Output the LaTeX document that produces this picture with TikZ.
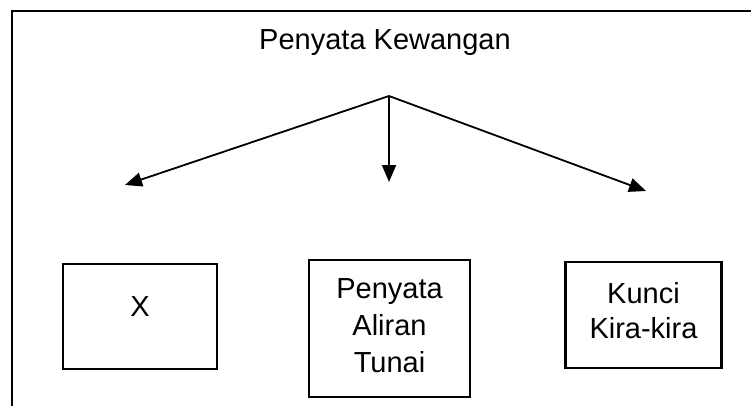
\documentclass[tikz,border=0pt]{standalone}
\usepackage{fontspec}
\setmainfont{Liberation Sans}
\usetikzlibrary{arrows.meta}
\begin{document}
\begin{tikzpicture}[x=1bp,y=-1bp,
  frame/.style={line width=2.6bp},
  box/.style={draw,line width=2.3bp,inner sep=0pt},
  lbl/.style={font=\fontsize{29bp}{37bp}\selectfont,anchor=base,inner sep=0pt},
  arr/.style={line width=1.8bp,-{Triangle[length=17bp,width=14bp]}}]
\useasboundingbox (0,0) rectangle (751,406);
% frame
\draw[frame] (12,406) -- (12,11) -- (751,11);
% title
\node[lbl] (title) at (385,49) {Penyata Kewangan};
% boxes
\node[box,minimum width=154bp,minimum height=105bp] (bx) at (140,316.5) {};
\node[box,minimum width=161bp,minimum height=137bp] (bp) at (389.5,328.5) {};
\node[box,minimum width=156bp,minimum height=106bp] (bk) at (643.5,315) {};
\node[lbl] (tx) at (140,316) {X};
\node[lbl] (tp1) at (389.5,298) {Penyata};
\node[lbl] (tp2) at (389.5,335) {Aliran};
\node[lbl] (tp3) at (389.5,372) {Tunai};
\node[lbl] (tk1) at (643.5,303) {Kunci};
\node[lbl] (tk2) at (643.5,338) {Kira-kira};
% arrows
\coordinate (apex) at (389,96);
\coordinate (tipL) at (125,185);
\coordinate (tipM) at (389,182);
\coordinate (tipR) at (646,191);
\draw[arr] (apex) -- (tipL);
\draw[arr] (apex) -- (tipM);
\draw[arr] (apex) -- (tipR);
\end{tikzpicture}
\end{document}
